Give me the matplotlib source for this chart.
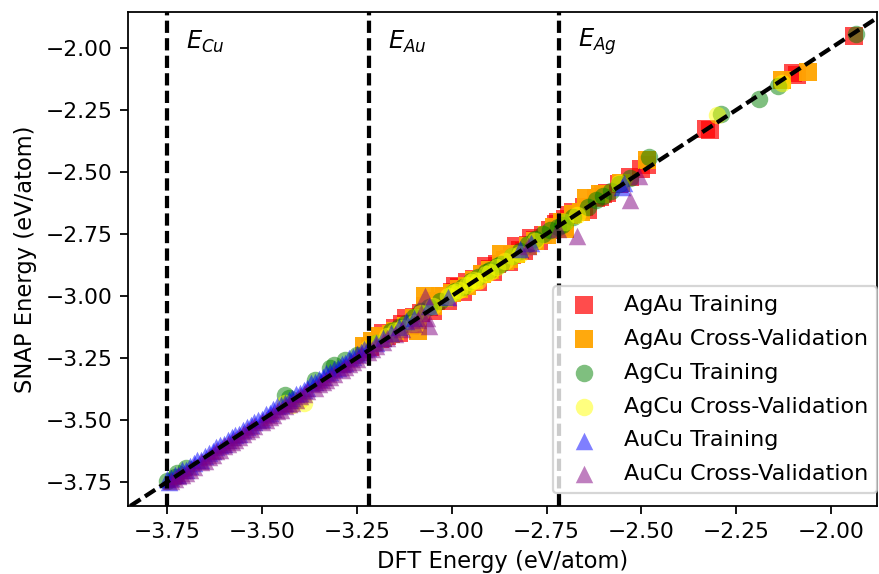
import matplotlib
matplotlib.use("Agg")
import matplotlib.pyplot as plt

# ---------------- data (DFT energy, SNAP energy) in eV/atom ----------------
agau_train_x = [-3.215, -3.19, -3.17, -3.15, -3.13, -3.10, -3.08, -3.06, -3.04, -3.02,
                -3.00, -2.98, -2.96, -2.94, -2.92, -2.90, -2.88, -2.86, -2.84, -2.82,
                -2.80, -2.78, -2.76, -2.74, -2.725, -2.70, -2.68, -2.65, -2.61, -2.60,
                -2.56, -2.53, -2.50, -2.485, -2.33, -2.32, -2.10, -2.09, -1.94,
                -3.14, -3.11, -3.05, -3.01, -2.97, -2.93, -2.89, -2.85, -2.81, -2.77,
                -3.18, -3.12, -3.07, -2.99, -2.91, -2.83, -2.79,
                -2.72, -2.705, -2.69, -2.59, -2.62, -2.64]
agau_train_y = [-3.205, -3.175, -3.16, -3.13, -3.115, -3.085, -3.07, -3.045, -3.02, -3.0,
                -2.985, -2.965, -2.945, -2.93, -2.91, -2.89, -2.87, -2.855, -2.835, -2.815,
                -2.795, -2.775, -2.755, -2.735, -2.71, -2.69, -2.66, -2.64, -2.60, -2.59,
                -2.55, -2.52, -2.49, -2.47, -2.325, -2.33, -2.10, -2.11, -1.95,
                -3.15, -3.12, -3.06, -3.02, -2.985, -2.945, -2.905, -2.865, -2.82, -2.78,
                -3.15, -3.09, -3.04, -2.96, -2.88, -2.80, -2.765,
                -2.70, -2.72, -2.675, -2.585, -2.605, -2.655]

agau_cv_x = [-3.21, -3.18, -3.15, -3.12, -3.09, -3.07, -3.03, -3.05, -3.00, -2.96,
             -2.92, -2.87, -2.85, -2.80, -2.75, -2.71, -2.70, -2.645, -2.61, -2.555,
             -2.485, -2.13, -2.06,
             -3.23, -3.19, -3.16, -3.10, -3.06, -3.02, -2.98, -2.94, -2.90, -2.86,
             -2.83, -2.78, -2.73, -2.68, -2.66]
agau_cv_y = [-3.18, -3.17, -3.14, -3.12, -3.14, -3.00, -3.00, -3.04, -2.99, -2.96,
             -2.91, -2.83, -2.85, -2.80, -2.755, -2.70, -2.73, -2.605, -2.59, -2.545,
             -2.45, -2.13, -2.095,
             -3.20, -3.16, -3.155, -3.09, -3.03, -3.01, -2.97, -2.935, -2.895, -2.86,
             -2.83, -2.78, -2.72, -2.67, -2.66]

agcu_train_x = [-3.75, -3.725, -3.70, -3.44, -3.43, -3.32, -3.31, -3.25, -3.20, -3.16,
                -3.12, -3.08, -3.03, -3.00, -2.97, -2.93, -2.90, -2.87, -2.84, -2.80,
                -2.76, -2.72, -2.71, -2.68, -2.64, -2.60, -2.56, -2.53, -2.48, -2.29,
                -2.19, -2.14, -1.935,
                -3.14, -3.10, -3.06, -2.99, -2.95, -2.91, -2.88, -2.82, -2.78, -2.74,
                -2.70, -2.62, -2.58, -3.73, -3.36, -3.28]
agcu_train_y = [-3.745, -3.715, -3.695, -3.40, -3.41, -3.29, -3.28, -3.24, -3.19, -3.14,
                -3.11, -3.06, -3.02, -2.99, -2.965, -2.925, -2.895, -2.87, -2.84, -2.79,
                -2.75, -2.72, -2.715, -2.68, -2.64, -2.595, -2.55, -2.525, -2.44, -2.265,
                -2.205, -2.155, -1.945,
                -3.125, -3.085, -3.045, -2.98, -2.94, -2.905, -2.88, -2.82, -2.77, -2.735,
                -2.70, -2.615, -2.575, -3.73, -3.34, -3.26]

agcu_cv_x = [-3.44, -3.39, -3.22, -3.17, -3.13, -3.10, -3.05, -3.00, -2.98, -2.96,
             -2.93, -2.90, -2.86, -2.82, -2.78, -2.70, -2.67, -2.56, -2.30, -2.13,
             -3.01, -2.99, -2.95, -2.94, -2.91, -2.88, -2.84, -3.08, -3.15, -3.20,
             -3.42, -3.40]
agcu_cv_y = [-3.43, -3.43, -3.21, -3.16, -3.13, -3.11, -3.04, -2.99, -2.975, -2.955,
             -2.94, -2.905, -2.86, -2.83, -2.78, -2.70, -2.675, -2.545, -2.27, -2.14,
             -3.00, -2.985, -2.945, -2.935, -2.91, -2.885, -2.84, -3.07, -3.14, -3.19,
             -3.44, -3.42]

aucu_train_x = [-3.75, -3.74, -3.72, -3.70, -3.68, -3.66, -3.65, -3.63, -3.61, -3.60,
                -3.58, -3.56, -3.54, -3.52, -3.50, -3.48, -3.46, -3.44, -3.42, -3.40,
                -3.38, -3.36, -3.34, -3.32, -3.30, -3.28, -3.26, -3.24, -3.23, -3.20,
                -3.16, -3.12, -3.06, -3.01, -2.82, -2.79, -2.545, -2.55,
                -3.745, -3.73, -3.71, -3.69, -3.67, -3.64, -3.62, -3.59, -3.57, -3.55,
                -3.53, -3.51, -3.49, -3.47, -3.45, -3.43, -3.41, -3.39, -3.37, -3.35,
                -3.33, -3.31, -3.29, -3.27, -3.25, -3.22, -3.18, -3.14, -3.10]
aucu_train_y = [-3.74, -3.735, -3.72, -3.70, -3.675, -3.66, -3.645, -3.625, -3.60, -3.595,
                -3.57, -3.555, -3.53, -3.51, -3.495, -3.47, -3.445, -3.43, -3.41, -3.39,
                -3.37, -3.345, -3.325, -3.305, -3.29, -3.27, -3.245, -3.225, -3.215, -3.19,
                -3.15, -3.10, -3.04, -3.005, -2.81, -2.785, -2.545, -2.56,
                -3.75, -3.72, -3.70, -3.685, -3.66, -3.635, -3.61, -3.58, -3.56, -3.54,
                -3.52, -3.50, -3.475, -3.455, -3.44, -3.42, -3.395, -3.38, -3.35, -3.335,
                -3.31, -3.295, -3.275, -3.25, -3.235, -3.21, -3.17, -3.125, -3.09]

aucu_cv_x = [-3.74, -3.72, -3.70, -3.69, -3.66, -3.64, -3.62, -3.59, -3.57, -3.55,
             -3.53, -3.50, -3.48, -3.46, -3.44, -3.42, -3.40, -3.38, -3.35, -3.33,
             -3.31, -3.28, -3.26, -3.24, -3.21, -3.18, -3.15, -3.10, -3.08, -3.07,
             -3.065, -3.06, -2.72, -2.67, -2.53, -2.505,
             -3.73, -3.71, -3.68, -3.65, -3.63, -3.61, -3.60, -3.58, -3.56, -3.54,
             -3.52, -3.49, -3.47, -3.45, -3.43, -3.41, -3.39, -3.36, -3.34, -3.32,
             -3.29, -3.27, -3.25, -3.22, -3.20, -3.17, -3.13, -3.09, -2.80]
aucu_cv_y = [-3.745, -3.725, -3.715, -3.70, -3.67, -3.65, -3.625, -3.595, -3.58, -3.555,
             -3.535, -3.51, -3.49, -3.465, -3.445, -3.43, -3.405, -3.385, -3.355, -3.34,
             -3.315, -3.285, -3.265, -3.24, -3.215, -3.185, -3.155, -3.115, -3.07, -3.00,
             -3.09, -3.12, -2.73, -2.76, -2.615, -2.515,
             -3.74, -3.72, -3.69, -3.665, -3.64, -3.62, -3.605, -3.59, -3.57, -3.545,
             -3.525, -3.50, -3.48, -3.46, -3.435, -3.42, -3.395, -3.37, -3.345, -3.325,
             -3.30, -3.275, -3.255, -3.225, -3.20, -3.17, -3.135, -3.095, -2.80]

ref_labels = ["$E_{Cu}$", "$E_{Au}$", "$E_{Ag}$"]
ref_energies = [-3.75, -3.218, -2.716]

xlim = (-3.853, -1.879)
ylim = (-3.847, -1.855)
xticks = [-3.75, -3.50, -3.25, -3.00, -2.75, -2.50, -2.25, -2.00]
yticks = [-3.75, -3.50, -3.25, -3.00, -2.75, -2.50, -2.25, -2.00]

# ---------------- figure ----------------
DPI = 160
W, H = 879, 574
fig = plt.figure(figsize=(W / DPI, H / DPI), dpi=DPI)
ax = fig.add_axes([128 / W, 68 / H, 749 / W, 494 / H])

S = 62
ax.scatter(agau_train_x, agau_train_y, s=S, marker="s", color="red", alpha=0.7,
           linewidths=0, label="AgAu Training")
ax.scatter(agau_cv_x, agau_cv_y, s=S, marker="s", color="orange", alpha=0.95,
           linewidths=0, label="AgAu Cross-Validation")
ax.scatter(agcu_train_x, agcu_train_y, s=S, marker="o", color="green", alpha=0.5,
           linewidths=0, label="AgCu Training")
ax.scatter(agcu_cv_x, agcu_cv_y, s=S, marker="o", color="yellow", alpha=0.5,
           linewidths=0, label="AgCu Cross-Validation")
ax.scatter(aucu_train_x, aucu_train_y, s=S, marker="^", color="blue", alpha=0.5,
           linewidths=0, label="AuCu Training")
ax.scatter(aucu_cv_x, aucu_cv_y, s=S, marker="^", color="purple", alpha=0.5,
           linewidths=0, label="AuCu Cross-Validation")

dash = (0, (2.9, 1.25))
ax.axline((-3.0, -3.0), slope=1, color="black", linestyle=dash, linewidth=1.9)
for lab, e in zip(ref_labels, ref_energies):
    ax.axvline(e, color="black", linestyle=dash, linewidth=1.9)
    ax.text(e + 0.05, -1.976, lab, fontsize=10.8, va="center", ha="left")

ax.set_xlim(*xlim)
ax.set_ylim(*ylim)
ax.set_xticks(xticks)
ax.set_yticks(yticks)
ax.tick_params(labelsize=9.8)
ax.set_xlabel("DFT Energy (eV/atom)", fontsize=10.2)
ax.set_ylabel("SNAP Energy (eV/atom)", fontsize=10.2)

ax.legend(loc="lower right", bbox_to_anchor=(877 / W, 1 - 493 / H),
          bbox_transform=fig.transFigure, borderaxespad=0, fontsize=10,
          labelspacing=0.62)

fig.savefig("out.png", dpi=DPI)
